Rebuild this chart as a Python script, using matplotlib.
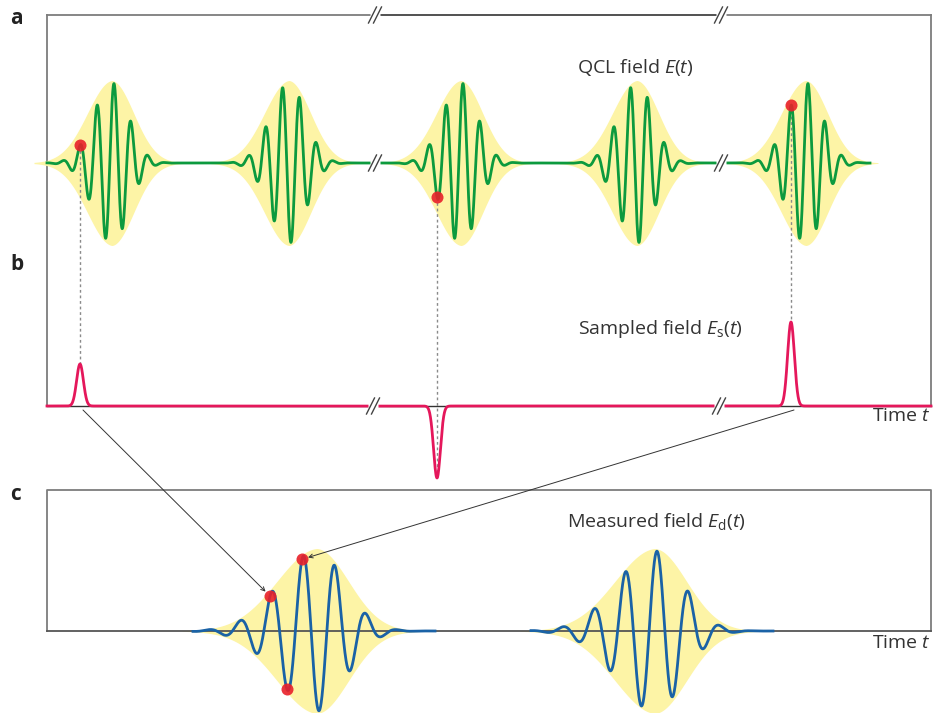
import numpy as np
import matplotlib.pyplot as plt

plt.rcParams['font.family'] = ['Open Sans', 'DejaVu Sans']
plt.rcParams['mathtext.fontset'] = 'custom'
plt.rcParams['mathtext.rm'] = 'Open Sans'
plt.rcParams['mathtext.it'] = 'Open Sans:italic'

# panel a: QCL pulse train (time axis in drawing units)
qcl_centres = [112, 289, 461, 637, 806]
qcl_phase = [0, np.pi, 0, np.pi, 0]
qcl_amp = 80
qcl_period = 17
qcl_sigma = (18.5, 16.5)
qcl_env_amp = 80
qcl_env_width = (35, 31)

# panel b: sampling instants and sampled values
sample_times = [80, 437, 791]
sample_values = [42, -72, 84]
sample_sigma = 3.4

# panel c: measured (stretched) pulses
meas_centres = [317, 655]
meas_phase = [np.pi, 0]
meas_amp = 80
meas_period = 31.5
meas_sigma = (38, 28)
meas_env_amp = 80
meas_env_width = (57, 45)
meas_dot_times = [270, 287, 302]

# where things sit on the canvas (pixels)
W, H = 942, 713
box_ab = (47, 931, 15, 406)
base_a = 163
base_b = 406
box_c = (47, 931, 490, 631)
breaks_x = [375, 721]

GREEN = '#0c9a3e'
YELLOW = '#fdf4a6'
RED = '#e5175b'
BLUE = '#1a62a6'
DOT = '#e8202a'
GREY = '#7d7d7d'
TXT = '#333333'


def envelope(dt, sig):
    s = np.where(dt < 0, sig[0], sig[1])
    return np.exp(-dt ** 2 / (2 * s ** 2))


def shade_env(dt, w, amp):
    # gaussian body with a thin exponential tail
    s = np.where(dt < 0, w[0], w[1])
    return amp * np.exp(-(dt / s) ** 2) + 2.5 * np.exp(-np.abs(dt) / (0.6 * s))


def field(t, centres, phases, amp, period, sig):
    out = np.zeros_like(t, dtype=float)
    for c, ph in zip(centres, phases):
        dt = t - c
        out += amp * envelope(dt, sig) * np.cos(2 * np.pi * (dt - 2) / period + ph)
    return out


def break_mark(x, y):
    ax.plot([x - 5, x + 5], [y, y], color='white', lw=5, zorder=6, solid_capstyle='butt')
    for off in (-2.5, 2.5):
        ax.plot([x + off - 4, x + off + 4], [y + 8, y - 8], color='#444444', lw=1.0, zorder=7)


fig = plt.figure(figsize=(W / 100, H / 100), dpi=100)
ax = fig.add_axes([0, 0, 1, 1])
ax.set_xlim(0, W)
ax.set_ylim(H, 0)
ax.axis('off')

# frames
x0, x1, y0, y1 = box_ab
ax.plot([x0, x0], [y0, y1], color=GREY, lw=1.3)
ax.plot([x1, x1], [y0, y1], color=GREY, lw=1.3)
ax.plot([x0, breaks_x[0]], [y0, y0], color=GREY, lw=1.3)
ax.plot([breaks_x[0], breaks_x[1]], [y0, y0], color='#222222', lw=1.1)
ax.plot([breaks_x[1], x1], [y0, y0], color=GREY, lw=1.3)
ax.plot([x0, x1], [y1, y1], color='#333333', lw=1.0, zorder=1)
cx0, cx1, cy0, cy1 = box_c
ax.plot([cx0, cx0, cx1, cx1], [cy1, cy0, cy0, cy1], color=GREY, lw=1.3)
ax.plot([cx0, cx1], [cy1, cy1], color='#555555', lw=1.3, zorder=3)

# panel a: envelopes + field
for c in qcl_centres:
    tt = np.linspace(c - 78, c + 72, 400)
    e = shade_env(tt - c, qcl_env_width, qcl_env_amp)
    ax.fill_between(tt, base_a - e, base_a + e, color=YELLOW, lw=0, zorder=2)
t = np.linspace(47, 870, 6000)
ax.plot(t, base_a - field(t, qcl_centres, qcl_phase, qcl_amp, qcl_period, qcl_sigma),
        color=GREEN, lw=2.0, zorder=4)

# panel b: sampled field
tb = np.linspace(47, 931, 6000)
sb = np.zeros_like(tb)
for ts, v in zip(sample_times, sample_values):
    sb += v * np.exp(-(tb - ts) ** 2 / (2 * sample_sigma ** 2))
ax.plot(tb, base_b - sb, color=RED, lw=2.0, zorder=4)

# sampling points and guides
ts_arr = np.array(sample_times, dtype=float)
ya = base_a - field(ts_arr, qcl_centres, qcl_phase, qcl_amp, qcl_period, qcl_sigma)
for ts, y, v in zip(sample_times, ya, sample_values):
    ax.plot([ts, ts], [y, base_b - v], color='#8a8a8a', lw=1.0, ls=(0, (2, 2)), zorder=3)
ax.scatter(ts_arr, ya, s=75, color=DOT, alpha=0.9, lw=0, zorder=5)

# panel c: measured field
for c in meas_centres:
    tt = np.linspace(c - 135, c + 122, 400)
    e = shade_env(tt - c, meas_env_width, meas_env_amp)
    ax.fill_between(tt, cy1 - e, cy1 + e, color=YELLOW, lw=0, zorder=2)
for c, ph in zip(meas_centres, meas_phase):
    tt = np.linspace(c - 124, c + 118, 1500)
    ax.plot(tt, cy1 - field(tt, [c], [ph], meas_amp, meas_period, meas_sigma),
            color=BLUE, lw=2.0, zorder=4)
md = np.array(meas_dot_times, dtype=float)
yc = cy1 - field(md, meas_centres, meas_phase, meas_amp, meas_period, meas_sigma)
ax.scatter(md, yc, s=75, color=DOT, alpha=0.9, lw=0, zorder=5)

# arrows from sampled peaks to measured points
for i_s, i_m in [(0, 0), (2, 2)]:
    ax.annotate('', xy=(md[i_m], yc[i_m]), xytext=(sample_times[i_s] + 3, base_b + 4),
                arrowprops=dict(arrowstyle='->', color='#333333', lw=0.7,
                                mutation_scale=7, shrinkA=0, shrinkB=4.5), zorder=6)

# axis breaks
for bx in breaks_x:
    break_mark(bx, y0)
    break_mark(bx, base_a)
    break_mark(bx - 2, base_b)

# labels
fs = 14
ax.text(577, 68, r'QCL field $E$($t$)', fontsize=fs, color=TXT, va='center', ha='left')
ax.text(578, 329, r'Sampled field $E_\mathrm{s}$($t$)', fontsize=fs, color=TXT, va='center', ha='left')
ax.text(567, 521, r'Measured field $E_\mathrm{d}$($t$)', fontsize=fs, color=TXT, va='center', ha='left')
ax.text(931, 416, r'Time $t$', fontsize=fs, color=TXT, va='center', ha='right')
ax.text(931, 643, r'Time $t$', fontsize=fs, color=TXT, va='center', ha='right')
for lab, yy in [('a', 18), ('b', 265), ('c', 495)]:
    ax.text(10, yy, lab, fontsize=15, fontweight='bold', color='#222222', va='center', ha='left')

fig.savefig('out.png', dpi=100)
